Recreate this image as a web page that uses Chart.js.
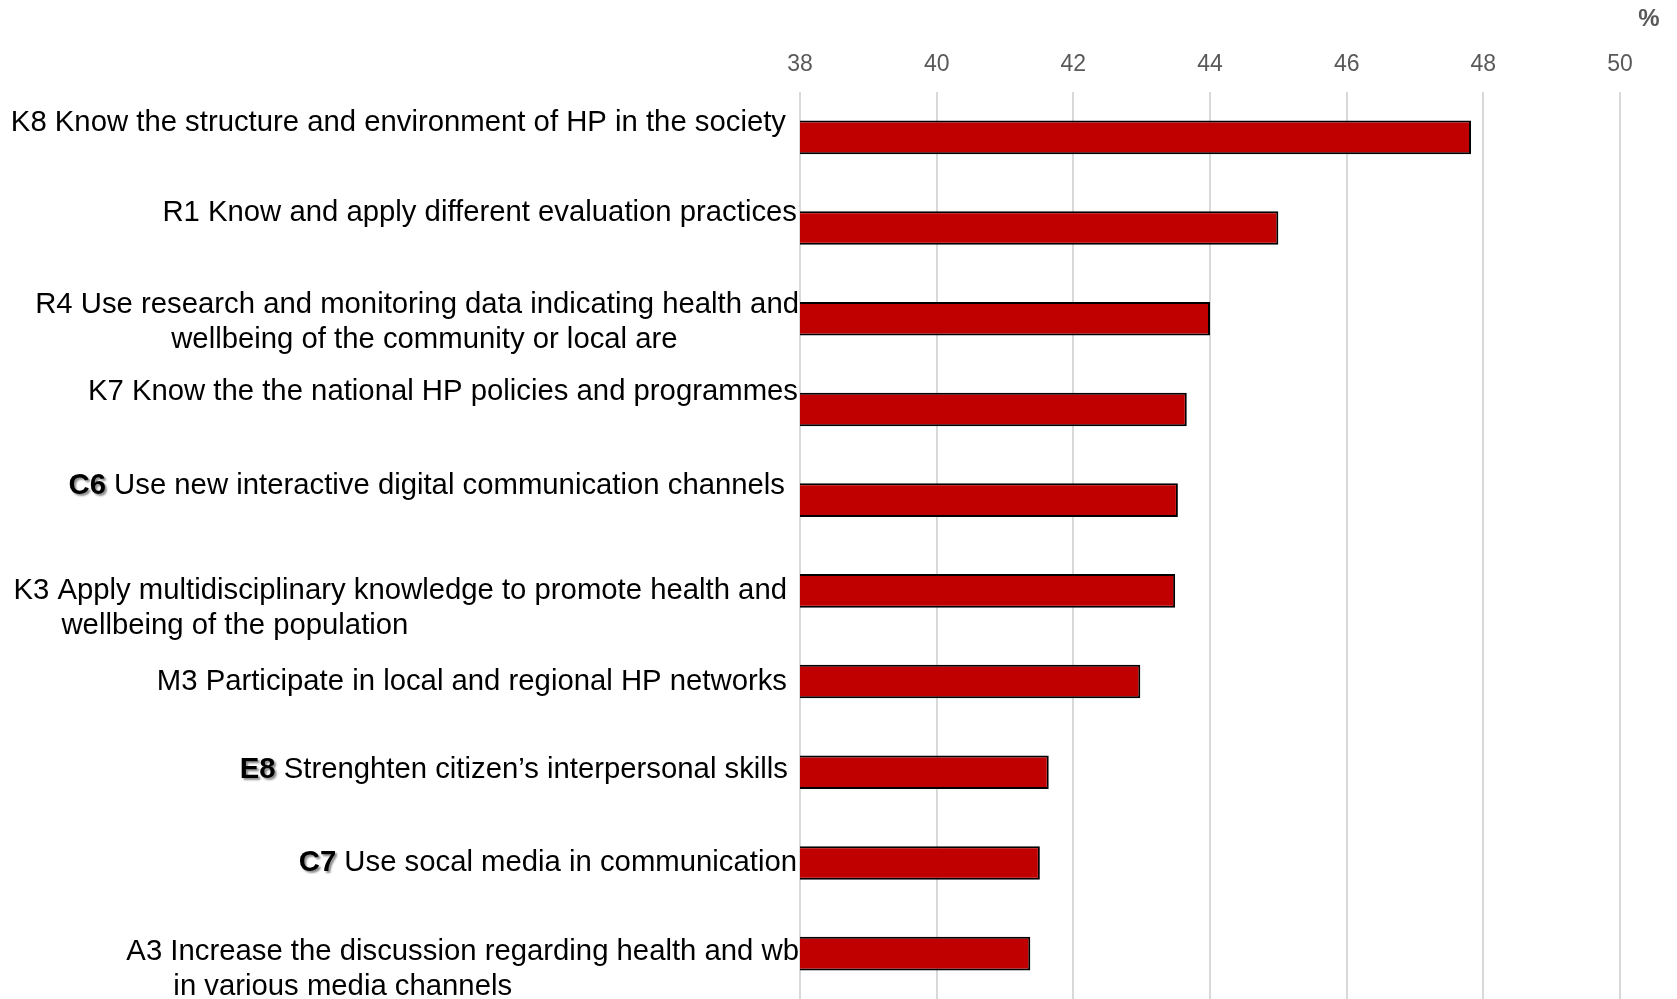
<!DOCTYPE html>
<html>
<head>
<meta charset="utf-8">
<script src="https://cdn.jsdelivr.net/npm/chart.js@4.4.0/dist/chart.umd.min.js"></script>
<style>
  html, body { margin: 0; padding: 0; background: #fff; }
  #wrap { width: 1677px; height: 999px; position: relative; }
</style>
</head>
<body>
<div id="wrap"><canvas id="chart"></canvas></div>
<script>
// competence codes and their descriptions (2nd entry = wrapped line)
const codes = ['K8', 'R1', 'R4', 'K7', 'C6', 'K3', 'M3', 'E8', 'C7', 'A3']
const descriptions = [
  ['Know the structure and environment of HP in the society'],
  ['Know and apply different evaluation practices'],
  ['Use research and monitoring data indicating health and', 'wellbeing of the community or local are'],
  ['Know the the national HP policies and programmes'],
  ['Use new interactive digital communication channels'],
  ['Apply multidisciplinary knowledge to promote health and', 'wellbeing of the population'],
  ['Participate in local and regional HP networks'],
  ['Strenghten citizen\u2019s interpersonal skills'],
  ['Use socal media in communication'],
  ['Increase the discussion regarding health and wb', 'in various media channels']
]
const boldCodes = ['C6', 'E8', 'C7']
const values = [47.82, 45.0, 44.0, 43.66, 43.53, 43.49, 42.98, 41.64, 41.51, 41.37]
const xTicks = [38, 40, 42, 44, 46, 48, 50]
const unitLabel = '%'

// text box placement, roughly as in the original slide
const labelLift = [14, 15, 14, 18, 14, 0, 0, 2, 0, 2]
const labelGap = [14, 3, 1, 2, 15, 13, 13, 12, 3, 1]
const secondIndent = [0, 0, 136, 0, 0, 48, 0, 0, 0, 47]

const FONT = '"Liberation Sans", Arial, sans-serif'
const LABEL_SIZE = 29.3

const categoryLabels = {
  id: 'categoryLabels',
  afterDraw(chart) {
    const ctx = chart.ctx
    const yScale = chart.scales.y
    const left = chart.chartArea.left
    const regular = LABEL_SIZE + 'px ' + FONT
    const bold = 'bold ' + LABEL_SIZE + 'px ' + FONT
    ctx.save()
    ctx.textBaseline = 'middle'
    ctx.textAlign = 'left'
    ctx.fillStyle = '#000'
    codes.forEach((code, i) => {
      const y = yScale.getPixelForValue(i) - labelLift[i]
      const right = left - labelGap[i]
      const isBold = boldCodes.includes(code)
      const rest = ' ' + descriptions[i][0]
      ctx.font = bold
      const codeW = isBold ? ctx.measureText(code).width : 0
      ctx.font = regular
      const restW = isBold ? ctx.measureText(rest).width : ctx.measureText(code + rest).width
      const start = right - codeW - restW
      if (isBold) {
        ctx.save()
        ctx.font = bold
        ctx.shadowColor = 'rgba(0,0,0,0.45)'
        ctx.shadowOffsetX = 2
        ctx.shadowOffsetY = 2
        ctx.shadowBlur = 2
        ctx.fillText(code, start, y)
        ctx.restore()
        ctx.font = regular
        ctx.fillText(rest, start + codeW, y)
      } else {
        ctx.fillText(code + rest, start, y)
      }
      if (descriptions[i][1]) {
        ctx.fillText(descriptions[i][1], start + secondIndent[i], y + 35)
      }
    })
    // unit in the top right corner
    ctx.font = 'bold 24px ' + FONT
    ctx.fillStyle = '#595959'
    ctx.textAlign = 'center'
    ctx.fillText(unitLabel, 1649, 19)
    ctx.restore()
  }
}

new Chart(document.getElementById('chart'), {
  type: 'bar',
  data: {
    labels: codes,
    datasets: [{
      data: values,
      backgroundColor: '#C00000',
      borderColor: '#000000',
      borderWidth: 2,
      categoryPercentage: 1,
      barPercentage: 0.37
    }]
  },
  options: {
    indexAxis: 'y',
    responsive: true,
    maintainAspectRatio: false,
    animation: false,
    devicePixelRatio: 1,
    layout: { padding: { left: 0, right: 57, top: 0, bottom: 0 } },
    plugins: {
      legend: { display: false },
      tooltip: { enabled: false }
    },
    scales: {
      x: {
        position: 'top',
        min: xTicks[0],
        max: xTicks[xTicks.length - 1],
        afterBuildTicks: (scale) => { scale.ticks = xTicks.map(v => ({ value: v })) },
        afterFit: (scale) => { scale.height = 92 },
        ticks: {
          color: '#595959',
          font: { family: FONT, size: 23 },
          padding: 14
        },
        grid: { color: '#d9d9d9', lineWidth: 2, drawTicks: false },
        border: { display: false }
      },
      y: {
        afterFit: (scale) => { scale.width = 800 },
        ticks: { display: false },
        grid: { display: false },
        border: { display: false }
      }
    }
  },
  plugins: [categoryLabels]
})
</script>
</body>
</html>
